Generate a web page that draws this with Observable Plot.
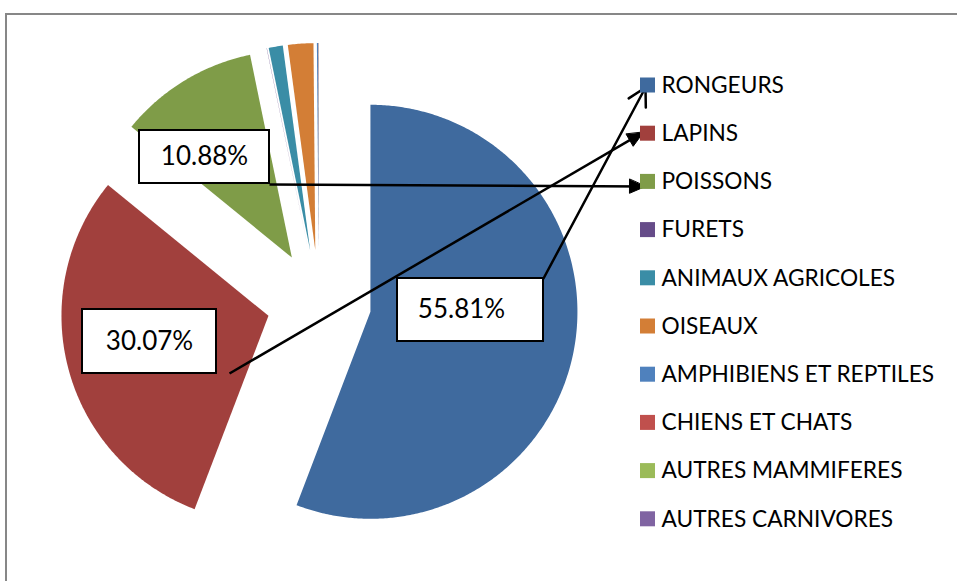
<!DOCTYPE html>
<html>
<head>
<meta charset="utf-8">
<script src="https://cdn.jsdelivr.net/npm/d3@7"></script>
<script src="https://cdn.jsdelivr.net/npm/@observablehq/plot@0.6"></script>
<style>
  html, body { margin: 0; padding: 0; background: #fff; overflow: hidden; }
  #wrap { position: relative; width: 957px; height: 581px; }
  #wrap svg { position: absolute; left: 0; top: 0; background: transparent; }
  #border { position: absolute; left: 5px; top: 13px; width: 2000px; height: 2000px;
            border: 2px solid #878787; pointer-events: none; }
</style>
</head>
<body>
<div id="wrap"><div id="border"></div></div>
<script>
// ---- data ----
const categories = ["RONGEURS", "LAPINS", "POISSONS", "FURETS", "ANIMAUX AGRICOLES", "OISEAUX",
  "AMPHIBIENS ET REPTILES", "CHIENS ET CHATS", "AUTRES MAMMIFERES", "AUTRES CARNIVORES"];
const values = [55.81, 30.07, 10.88, 0.02, 1.10, 1.98, 0.10, 0.02, 0.01, 0.01];
const colors = ["#3F6A9E", "#A1403D", "#7F9C48", "#664C89", "#3A8DA6", "#D37E36",
  "#4F81BD", "#C0504D", "#9BBB59", "#8064A2"];
const labelled = ["RONGEURS", "LAPINS", "POISSONS"];

// ---- layout ----
const W = 957, H = 581;
const cx = 318.5, cy = 301.8, R = 207, explode = 52.3;
const legX = 640, legY0 = 85, legStep = 48.2, sw = 15;
const FONT = "Lato, 'Liberation Sans', sans-serif";
// callout boxes (x1, x2, y1, y2, text x) and arrow start points
const boxLayout = {
  "RONGEURS": {x1: 397, x2: 543, y1: 278, y2: 341, tx: 461, sx: 543, sy: 278, open: true},
  "LAPINS":   {x1: 82,  x2: 216, y1: 309, y2: 373, tx: 149, sx: 229, sy: 373, open: false},
  "POISSONS": {x1: 139, x2: 269, y1: 130, y2: 183, tx: 204, sx: 269, sy: 184, open: false}
};

// ---- pie geometry from values ----
const arcs = d3.pie().sort(null).value(d => d.value)(categories.map((name, i) => ({name, value: values[i]})));
const slicePts = [];
for (const a of arcs) {
  const mid = (a.startAngle + a.endAngle) / 2;
  const ox = cx + explode * Math.sin(mid), oy = cy - explode * Math.cos(mid);
  const name = a.data.name;
  slicePts.push({name, x: ox, y: oy});
  const n = Math.max(2, Math.ceil((a.endAngle - a.startAngle) / (Math.PI / 360)));
  for (let k = 0; k <= n; k++) {
    const t = a.startAngle + (a.endAngle - a.startAngle) * k / n;
    slicePts.push({name, x: ox + R * Math.sin(t), y: oy - R * Math.cos(t)});
  }
}

// ---- legend ----
const legend = categories.map((name, i) => ({name, y: legY0 + legStep * i}));

// ---- callouts ----
const fmt = d3.format(".2f");
const boxes = labelled.map(name => {
  const b = boxLayout[name];
  const i = categories.indexOf(name);
  return {name, ...b, label: fmt(values[i]) + "%", ty: (b.y1 + b.y2) / 2};
});
const tipOf = name => {
  const i = categories.indexOf(name);
  const tips = {"RONGEURS": [645, 2], "LAPINS": [643, -1.5], "POISSONS": [645, 4.5]};
  return [tips[name][0], legY0 + legStep * i + tips[name][1]];
};
const lines = boxes.map(b => { const [tx, ty] = tipOf(b.name); return {...b, ex: tx, ey: ty}; });
const heads = [];
for (const l of lines.filter(l => !l.open)) {
  const dx = l.ex - l.sx, dy = l.ey - l.sy, len = Math.hypot(dx, dy);
  const ux = dx / len, uy = dy / len, L = 16, w = 14;
  const bx = l.ex - L * ux, by = l.ey - L * uy;
  heads.push({name: l.name, x: l.ex, y: l.ey});
  heads.push({name: l.name, x: bx - uy * w / 2, y: by + ux * w / 2});
  heads.push({name: l.name, x: bx + uy * w / 2, y: by - ux * w / 2});
}

const plot = Plot.plot({
  width: W, height: H,
  margin: 0,
  x: {domain: [0, W], range: [0, W], axis: null},
  y: {domain: [0, H], range: [0, H], axis: null},
  color: {domain: categories, range: colors},
  style: {fontFamily: FONT, background: "transparent"},
  marks: [
    Plot.line(slicePts, {x: "x", y: "y", z: "name", fill: "name", stroke: "none", curve: "linear-closed"}),
    Plot.rect(boxes, {x1: "x1", x2: "x2", y1: "y1", y2: "y2", fill: "white", stroke: "black", strokeWidth: 2}),
    Plot.text(boxes, {x: "tx", y: "ty", text: "label", fontSize: 26, fill: "black"}),
    Plot.link(lines.filter(l => !l.open), {x1: "sx", y1: "sy", x2: "ex", y2: "ey", stroke: "black", strokeWidth: 2.5}),
    Plot.arrow(lines.filter(l => l.open), {x1: "sx", y1: "sy", x2: "ex", y2: "ey", stroke: "black", strokeWidth: 2.5, headLength: 12, headAngle: 58}),
    Plot.line(heads, {x: "x", y: "y", z: "name", fill: "black", stroke: "black", strokeWidth: 1, curve: "linear-closed"}),
    Plot.rect(legend, {x1: legX, x2: legX + sw, y1: d => d.y - sw / 2, y2: d => d.y + sw / 2, fill: "name"}),
    Plot.text(legend, {x: legX + sw + 6, y: "y", text: "name", textAnchor: "start", fontSize: 22.7, fill: "black"})
  ]
});
document.getElementById("wrap").prepend(plot);
</script>
</body>
</html>
